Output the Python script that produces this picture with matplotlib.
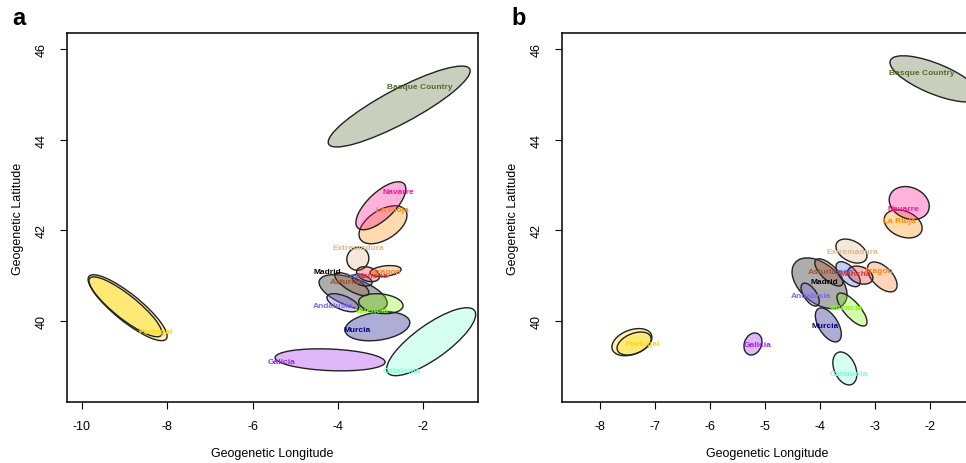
import numpy as np
import matplotlib
matplotlib.use('Agg')
import matplotlib.pyplot as plt
from matplotlib.patches import Ellipse

plt.rcParams['font.family'] = ['Liberation Sans', 'DejaVu Sans']

# regions, drawn in this order (Portugal has two posterior ellipses)
regions = ["Portugal", "", "Galicia", "Madrid", "Asturias", "Andalusia", "Valencia", "Murcia",
           "Catalonia", "Extremadura", "Aragon", "Leon", "Mancha", "La Rioja", "Navarre", "Basque Country"]
colors = ["#FFD700", "#FFD700", "#A020F0", "#000000", "#A0522D", "#7B68EE", "#7CFC00", "#000080",
          "#7FFFD4", "#DEB887", "#FF7F24", "#4169E1", "#EE2C2C", "#FF8C00", "#FF1493", "#556B2F"]

# panel a: centre, sd and correlation of each ellipse, then label position
a_cx = [-8.93, -8.98, -4.18, -3.64, -3.67, -3.88, -2.99, -3.07, -1.81, -3.53, -2.88, -3.43, -3.29, -2.94, -2.99, -2.56]
a_cy = [40.29, 40.31, 39.14, 40.62, 40.81, 40.40, 40.38, 39.88, 39.54, 41.37, 41.10, 40.90, 41.03, 42.12, 42.54, 44.73]
a_sx = [0.927, 0.856, 1.29, 0.80, 0.40, 0.375, 0.52, 0.76, 1.044, 0.258, 0.364, 0.235, 0.27, 0.563, 0.586, 1.665]
a_sy = [0.728, 0.662, 0.243, 0.40, 0.254, 0.20, 0.22, 0.32, 0.75, 0.254, 0.121, 0.13, 0.165, 0.419, 0.53, 0.893]
a_rho = [-0.86, -0.87, -0.2, -0.57, -0.75, -0.57, -0.2, 0.25, 0.80, 0.05, 0.3, -0.4, -0.3, 0.5, 0.7, 0.88]
a_lx = [-8.26, -8.26, -5.31, -4.25, -3.78, -4.11, -3.20, -3.55, -2.49, -3.52, -2.85, -3.59, -3.20, -2.73, -2.59, -2.07]
a_ly = [39.76, 39.76, 39.10, 41.08, 40.86, 40.35, 40.22, 39.82, 38.90, 41.61, 41.10, 41.00, 41.00, 42.45, 42.85, 45.18]

# panel b
b_cx = [-7.42, -7.38, -5.22, -4.01, -3.84, -4.18, -3.42, -3.85, -3.55, -3.43, -2.87, -3.49, -3.27, -2.49, -2.38, -1.91]
b_cy = [39.53, 39.50, 39.49, 40.83, 41.07, 40.58, 40.25, 39.91, 38.95, 41.54, 40.97, 41.03, 41.01, 42.14, 42.60, 45.34]
b_sx = [0.364, 0.31, 0.164, 0.50, 0.255, 0.165, 0.273, 0.236, 0.218, 0.282, 0.27, 0.22, 0.23, 0.345, 0.364, 0.82]
b_sy = [0.30, 0.254, 0.243, 0.56, 0.30, 0.254, 0.364, 0.375, 0.364, 0.265, 0.33, 0.276, 0.2, 0.31, 0.364, 0.51]
b_rho = [0.35, 0.4, 0.2, -0.45, -0.7, -0.6, -0.75, -0.55, -0.35, -0.4, -0.55, -0.6, -0.3, -0.3, -0.2, -0.71]
b_lx = [-7.22, -7.22, -5.13, -3.93, -3.91, -4.16, -3.53, -3.91, -3.47, -3.42, -2.93, -3.58, -3.36, -2.55, -2.49, -2.15]
b_ly = [39.51, 39.51, 39.47, 40.86, 41.08, 40.55, 40.29, 39.89, 38.83, 41.54, 41.12, 41.08, 41.04, 42.21, 42.49, 45.47]

a_xticks = [-10, -8, -6, -4, -2]
b_xticks = [-8, -7, -6, -5, -4, -3, -2]
yticks = [40, 42, 44, 46]


def cov_ellipse(cx, cy, sx, sy, rho, col):
    cov = np.array([[sx * sx, rho * sx * sy], [rho * sx * sy, sy * sy]])
    vals, vecs = np.linalg.eigh(cov)
    ang = np.degrees(np.arctan2(vecs[1, 1], vecs[0, 1]))
    return Ellipse((cx, cy), 2 * np.sqrt(vals[1]), 2 * np.sqrt(vals[0]), angle=ang,
                   facecolor=matplotlib.colors.to_rgba(col, 0.32), edgecolor='#222222', lw=1.0)


def draw_panel(ax, cx, cy, sx, sy, rho, lx, ly, xticks, xlim):
    for i in range(len(regions)):
        ax.add_patch(cov_ellipse(cx[i], cy[i], sx[i], sy[i], rho[i], colors[i]))
    for i in range(len(regions)):
        if regions[i]:
            ax.text(lx[i], ly[i], regions[i], color=colors[i], fontsize=6, fontweight='bold',
                    ha='center', va='center')
    ax.set_xlim(xlim)
    ax.set_ylim(38.21, 46.35)
    ax.set_xticks(xticks)
    ax.set_yticks(yticks)
    ax.set_xticklabels([str(t) for t in xticks])
    ax.set_yticklabels([str(t) for t in yticks], rotation=90, va='center')
    ax.tick_params(direction='out', length=5, width=0.8, labelsize=9)
    ax.tick_params(axis='x', pad=8)
    ax.tick_params(axis='y', pad=9)
    for s in ax.spines.values():
        s.set_linewidth(1.1)
    ax.set_xlabel('Geogenetic Longitude', fontsize=9, labelpad=11)
    ax.set_ylabel('Geogenetic Latitude', fontsize=9, labelpad=8)


fig = plt.figure(figsize=(9.66, 4.64), dpi=100)
ax1 = fig.add_axes([0.0694, 0.1315, 0.4255, 0.795])
ax2 = fig.add_axes([0.5818, 0.1315, 0.4255, 0.795])

draw_panel(ax1, a_cx, a_cy, a_sx, a_sy, a_rho, a_lx, a_ly, a_xticks, (-10.35, -0.71))
draw_panel(ax2, b_cx, b_cy, b_sx, b_sy, b_rho, b_lx, b_ly, b_xticks, (-8.69, -1.22))

fig.text(0.013, 0.96, 'a', fontsize=17, fontweight='bold', va='center', ha='left')
fig.text(0.529, 0.96, 'b', fontsize=17, fontweight='bold', va='center', ha='left')

fig.savefig('out.png', dpi=100)
